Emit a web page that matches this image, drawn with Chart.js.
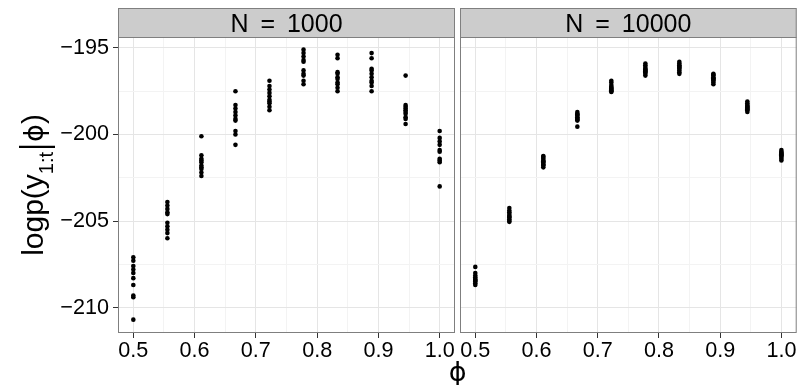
<!DOCTYPE html>
<html><head><meta charset="utf-8">
<script src="https://cdn.jsdelivr.net/npm/chart.js@4.4.1/dist/chart.umd.min.js"></script>
<style>
html,body{margin:0;padding:0;background:#fff;}
#wrap{position:relative;width:799px;height:385px;overflow:hidden;}
canvas{position:absolute;left:0;top:0;}
</style></head><body>
<div id="wrap"><canvas id="c1" width="799" height="385"></canvas><canvas id="c2" width="799" height="385"></canvas></div>
<script>
// ---- data ----
const phi = [0.5, 0.5556, 0.6111, 0.6667, 0.7222, 0.7778, 0.8333, 0.8889, 0.9444, 1.0];
const panelLabels = ['N = 1000', 'N = 10000'];
const xTickValues = [0.5, 0.6, 0.7, 0.8, 0.9, 1.0];
const yTickValues = [-210, -205, -200, -195];
const logLikN1000 = [
  [-207.1, -207.3, -207.6, -207.8, -208.0, -208.3, -208.7, -209.3, -209.4, -210.7],
  [-203.9, -204.1, -204.3, -204.5, -204.6, -205.1, -205.3, -205.5, -205.7, -206.0],
  [-200.1, -201.2, -201.4, -201.5, -201.6, -201.8, -201.9, -202.0, -202.2, -202.4],
  [-197.5, -198.3, -198.5, -198.7, -198.9, -199.1, -199.2, -199.8, -200.0, -200.6],
  [-196.9, -197.2, -197.4, -197.6, -197.8, -198.0, -198.1, -198.2, -198.4, -198.6],
  [-195.1, -195.3, -195.5, -195.7, -195.8, -196.3, -196.5, -196.6, -196.9, -197.1],
  [-195.4, -195.6, -196.4, -196.5, -196.7, -196.8, -197.0, -197.1, -197.3, -197.5],
  [-195.3, -195.6, -196.2, -196.3, -196.5, -196.7, -196.9, -197.0, -197.2, -197.5],
  [-196.6, -198.3, -198.4, -198.5, -198.6, -198.7, -198.8, -199.0, -199.1, -199.4],
  [-199.8, -200.2, -200.4, -200.6, -200.9, -201.0, -201.4, -201.5, -201.6, -203.0]
];
const logLikN10000 = [
  [-207.65, -208.0, -208.15, -208.25, -208.35, -208.4, -208.45, -208.5, -208.6, -208.7],
  [-204.25, -204.4, -204.5, -204.6, -204.7, -204.75, -204.8, -204.9, -205.0, -205.05],
  [-201.25, -201.3, -201.4, -201.5, -201.55, -201.6, -201.7, -201.75, -201.8, -201.9],
  [-198.7, -198.8, -198.85, -198.9, -199.0, -199.05, -199.1, -199.15, -199.2, -199.55],
  [-196.9, -197.0, -197.15, -197.25, -197.3, -197.35, -197.4, -197.45, -197.5, -197.55],
  [-195.9, -196.0, -196.1, -196.2, -196.25, -196.3, -196.35, -196.4, -196.5, -196.6],
  [-195.8, -195.9, -196.0, -196.05, -196.1, -196.15, -196.2, -196.3, -196.4, -196.5],
  [-196.5, -196.55, -196.6, -196.7, -196.75, -196.8, -196.85, -196.9, -197.0, -197.1],
  [-198.1, -198.2, -198.3, -198.35, -198.4, -198.45, -198.5, -198.55, -198.6, -198.7],
  [-200.9, -201.0, -201.05, -201.1, -201.15, -201.2, -201.25, -201.3, -201.4, -201.5]
];

// ---- helpers ----
const FONT = '"Liberation Sans", Arial, Helvetica, sans-serif';
const PHI_FONT = '"DejaVu Sans", "Liberation Sans", sans-serif';
const PHI = '\u03D5';
function toPoints(cols) {
  const pts = [];
  cols.forEach((vals, i) => vals.forEach(v => pts.push({x: phi[i], y: v})));
  return pts;
}
function isMajor(v, step) { return Math.abs(v / step - Math.round(v / step)) < 1e-6; }
const xMin = 0.475, xMax = 1.025, yMin = -211.47, yMax = -194.37;

const facetPlugin = {
  id: 'facet',
  afterDraw(chart, args, opts) {
    const {ctx, chartArea: a} = chart;
    ctx.save();
    ctx.fillStyle = '#CCCCCC';
    ctx.fillRect(a.left, 8, a.right - a.left, a.top - 8);
    ctx.strokeStyle = '#7F7F7F';
    ctx.lineWidth = 1;
    ctx.strokeRect(a.left + 0.5, 8.5, a.right - a.left - 1, a.top - 8);
    ctx.strokeRect(a.left + 0.5, a.top + 0.5, a.right - a.left - 1, a.bottom - a.top - 1);
    ctx.fillStyle = '#000';
    ctx.font = '25px ' + FONT;
    ctx.textAlign = 'center';
    ctx.textBaseline = 'alphabetic';
    try { ctx.wordSpacing = '5px'; } catch (e) {}
    ctx.fillText(opts.label, (a.left + a.right) / 2, 31.7);
    ctx.restore();
  }
};

const titlePlugin = {
  id: 'titles',
  afterDraw(chart) {
    const {ctx, chartArea: a} = chart;
    ctx.save();
    ctx.fillStyle = '#000';
    const big = '30px ' + FONT, small = '20px ' + FONT, phiF = '27px ' + PHI_FONT;
    ctx.font = big;
    const w1 = ctx.measureText('logp(y').width;
    ctx.font = small;
    const w2 = ctx.measureText('1:t').width;
    const wBar = 10;
    ctx.font = phiF;
    const w3 = ctx.measureText(PHI).width;
    ctx.font = big;
    const w4 = ctx.measureText(')').width;
    const total = w1 + w2 + wBar + w3 + w4;
    ctx.translate(43, (a.top + a.bottom) / 2);
    ctx.rotate(-Math.PI / 2);
    ctx.textBaseline = 'alphabetic';
    ctx.textAlign = 'left';
    let x = -total / 2;
    ctx.font = big;
    ctx.fillText('logp(y', x, 0); x += w1;
    ctx.font = small;
    ctx.fillText('1:t', x, 10); x += w2;
    ctx.lineWidth = 2.2;
    ctx.strokeStyle = '#000';
    ctx.beginPath();
    ctx.moveTo(x + wBar / 2, -24);
    ctx.lineTo(x + wBar / 2, 12);
    ctx.stroke();
    x += wBar;
    ctx.font = phiF;
    ctx.fillText(PHI, x, 0); x += w3;
    ctx.font = big;
    ctx.fillText(')', x, 0);
    ctx.restore();
    ctx.save();
    ctx.fillStyle = '#000';
    ctx.font = '27px ' + PHI_FONT;
    ctx.textAlign = 'center';
    ctx.textBaseline = 'alphabetic';
    ctx.fillText(PHI, 457.6, 381);
    ctx.restore();
  }
};

function xScale() {
  return {
    type: 'linear', min: xMin, max: xMax,
    afterBuildTicks(s) {
      const t = [];
      for (let k = 0; k <= 10; k++) t.push({value: +(0.5 + k * 0.05).toFixed(2)});
      s.ticks = t;
    },
    afterFit(s) { s.height = 52; },
    border: {display: false},
    grid: {
      color: c => isMajor(c.tick.value, 0.1) ? '#E5E5E5' : '#F3F3F3',
      lineWidth: 1,
      drawTicks: true,
      tickLength: 5,
      tickColor: c => isMajor(c.tick.value, 0.1) ? '#333333' : 'rgba(0,0,0,0)',
      tickWidth: 1
    },
    ticks: {
      autoSkip: false, maxRotation: 0, minRotation: 0, padding: 0,
      color: '#000',
      font: {family: FONT, size: 21.6},
      callback: v => xTickValues.some(t => Math.abs(t - v) < 1e-6) ? v.toFixed(1) : ''
    }
  };
}
function yScale(showLabels) {
  return {
    type: 'linear', min: yMin, max: yMax,
    afterBuildTicks(s) {
      const t = [];
      for (let k = 0; k <= 6; k++) t.push({value: -210 + k * 2.5});
      s.ticks = t;
    },
    afterFit(s) { s.width = showLabels ? 118 : 0; },
    border: {display: false},
    grid: {
      color: c => isMajor(c.tick.value, 5) ? '#E5E5E5' : '#F3F3F3',
      lineWidth: 1,
      drawTicks: showLabels,
      tickLength: 5,
      tickColor: c => isMajor(c.tick.value, 5) ? '#333333' : 'rgba(0,0,0,0)',
      tickWidth: 1
    },
    ticks: {
      display: showLabels, autoSkip: false, padding: 4,
      color: '#000',
      font: {family: FONT, size: 21.6},
      callback: v => yTickValues.some(t => Math.abs(t - v) < 1e-6) ? String(v).replace('-', '\u2212') : ''
    }
  };
}

function makeChart(id, cols, label, padding, left) {
  const plugins = [facetPlugin];
  if (left) plugins.push(titlePlugin);
  return new Chart(document.getElementById(id), {
    type: 'scatter',
    data: {datasets: [{
      data: toPoints(cols),
      pointRadius: 2.3, pointHoverRadius: 2.3,
      backgroundColor: '#000', borderWidth: 0, pointBorderWidth: 0
    }]},
    options: {
      responsive: false, animation: false, devicePixelRatio: 1,
      layout: {padding: padding},
      plugins: {legend: {display: false}, tooltip: {enabled: false}, facet: {label: label}},
      scales: {x: xScale(), y: yScale(left)}
    },
    plugins: plugins
  });
}

makeChart('c1', logLikN1000, panelLabels[0], {left: 0, right: 344, top: 37, bottom: 0}, true);
makeChart('c2', logLikN10000, panelLabels[1], {left: 460, right: 2, top: 37, bottom: 0}, false);
</script>
</body></html>
